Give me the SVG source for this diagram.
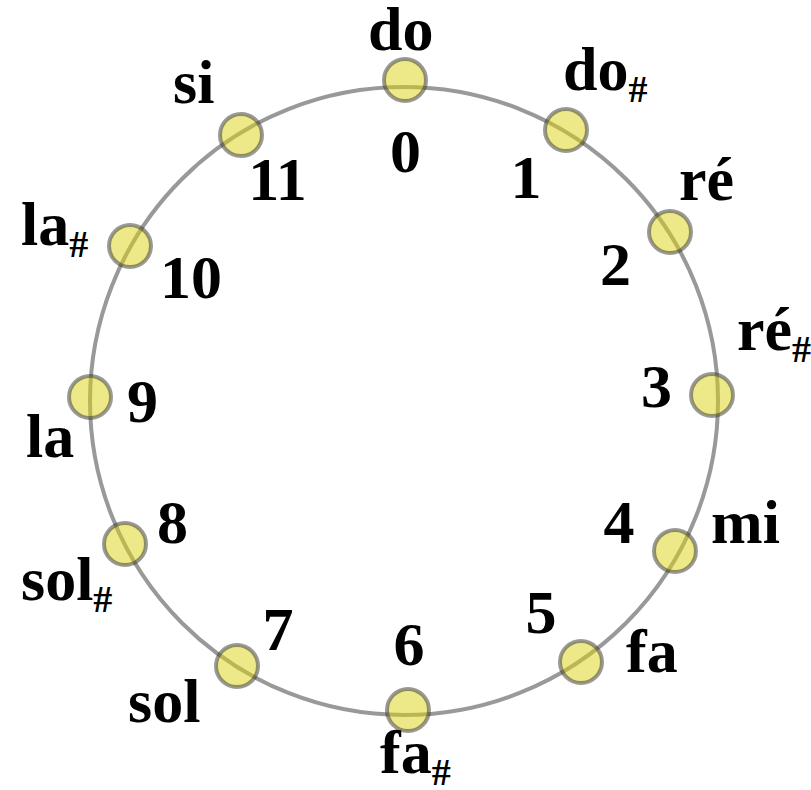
<svg xmlns="http://www.w3.org/2000/svg" width="811" height="790" viewBox="0 0 811 790">
<style>
.ring{fill:none;stroke:#333;stroke-opacity:0.5;stroke-width:4}
.node{fill:#dcd414;fill-opacity:0.5;stroke:#333;stroke-opacity:0.5;stroke-width:4}
.t{font-family:"Liberation Serif","Times New Roman",serif;font-weight:bold;font-size:62px;fill:#000}
.n{text-anchor:middle}
.s{font-size:38px}
</style>
<rect width="811" height="790" fill="#fff"/>
<g id="connectors">
<circle class="ring" cx="404" cy="401" r="314"/>
</g>
<g id="n0"><circle class="node" cx="405" cy="80" r="21"/><text class="t" x="368" y="50">do</text><text class="t n" x="405.5" y="172">0</text></g>
<g id="n1"><circle class="node" cx="566" cy="130" r="21"/><text class="t" x="563" y="90">do<tspan class="s" dy="12">#</tspan></text><text class="t n" x="526" y="198">1</text></g>
<g id="n2"><circle class="node" cx="670" cy="232" r="21"/><text class="t" x="679" y="200">ré</text><text class="t n" x="615.5" y="285">2</text></g>
<g id="n3"><circle class="node" cx="712" cy="395" r="21"/><text class="t" x="737" y="350">ré<tspan class="s" dy="12">#</tspan></text><text class="t n" x="656.5" y="407">3</text></g>
<g id="n4"><circle class="node" cx="675" cy="551" r="21"/><text class="t" x="711" y="543">mi</text><text class="t n" x="619" y="543">4</text></g>
<g id="n5"><circle class="node" cx="581" cy="662" r="21"/><text class="t" x="626" y="672">fa</text><text class="t n" x="541" y="633">5</text></g>
<g id="n6"><circle class="node" cx="408" cy="710" r="21"/><text class="t" x="380" y="773">fa<tspan class="s" dy="12">#</tspan></text><text class="t n" x="409" y="665">6</text></g>
<g id="n7"><circle class="node" cx="237" cy="666" r="21"/><text class="t" x="128" y="722">sol</text><text class="t n" x="278" y="650">7</text></g>
<g id="n8"><circle class="node" cx="125" cy="544" r="21"/><text class="t" x="21" y="600">sol<tspan class="s" dy="12">#</tspan></text><text class="t n" x="172.5" y="543">8</text></g>
<g id="n9"><circle class="node" cx="90" cy="397" r="21"/><text class="t" x="26" y="457">la</text><text class="t n" x="142.5" y="422">9</text></g>
<g id="n10"><circle class="node" cx="130" cy="246" r="21"/><text class="t" x="21" y="245">la<tspan class="s" dy="12">#</tspan></text><text class="t n" x="191" y="298">10</text></g>
<g id="n11"><circle class="node" cx="241" cy="135" r="21"/><text class="t" x="173" y="103">si</text><text class="t n" x="277.5" y="200">11</text></g>
</svg>
